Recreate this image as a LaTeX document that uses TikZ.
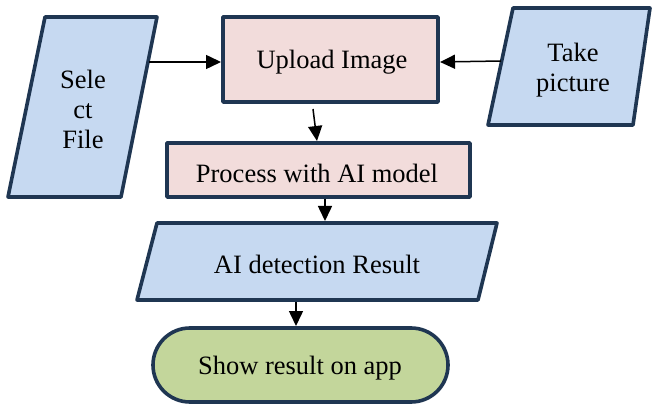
\documentclass[tikz,border=0pt]{standalone}
\usepackage{fontspec}
\setmainfont{Liberation Serif}
\usetikzlibrary{arrows.meta}
\definecolor{bordc}{HTML}{1F3652}
\definecolor{bluef}{HTML}{C6D9F1}
\definecolor{pinkf}{HTML}{F2DCDB}
\definecolor{greenf}{HTML}{C3D69B}
\tikzset{
  shp/.style={draw=bordc, line width=3.6pt, line join=round},
  lbl/.style={font=\fontsize{26.5}{30}\selectfont, align=center, inner sep=0pt},
  conn/.style={draw=black, line width=1.5pt, -{Triangle[length=15pt,width=14pt]}}
}
\begin{document}
\begin{tikzpicture}[x=1pt,y=-1pt]
\useasboundingbox (0,0) rectangle (653,406);
% shapes
\path[shp, fill=bluef] (45,17) -- (157,17) -- (121,197) -- (8,197) -- cycle;
\path[shp, fill=pinkf] (223,17) rectangle (438,102);
\path[shp, fill=bluef] (513,8) -- (650,8) -- (633,125) -- (488,125) -- cycle;
\path[shp, fill=pinkf] (167,143) rectangle (470,197);
\path[shp, fill=bluef] (157,223) -- (497,223) -- (478,300) -- (137,300) -- cycle;
\path[shp, fill=greenf, rounded corners=36.9pt] (153,328) rectangle (448,402);
% labels
\node[lbl] (sel) at (83,109) {Sele\\ct\\File};
\node[lbl] (upl) at (332,62) {Upload Image};
\node[lbl] (tak) at (573,70) {Take\\picture};
\node[lbl] (pro) at (317,173) {Process with AI model};
\node[lbl] (aid) at (317,264) {AI detection Result};
\node[lbl] (sho) at (300,368) {Show result on app};
% connector end points
\coordinate (selE) at (149,62);
\coordinate (uplW) at (221,62);
\coordinate (takW) at (501,61);
\coordinate (uplE) at (440,62);
\coordinate (uplS) at (313,109);
\coordinate (proN) at (317,141);
\coordinate (proS) at (325,199);
\coordinate (aidN) at (325,221);
\coordinate (aidS) at (296,302);
\coordinate (shoN) at (296,326);
% connectors
\draw[conn] (selE) -- (uplW);
\draw[conn] (takW) -- (uplE);
\draw[conn] (uplS) -- (proN);
\draw[conn] (proS) -- (aidN);
\draw[conn] (aidS) -- (shoN);
\end{tikzpicture}
\end{document}
